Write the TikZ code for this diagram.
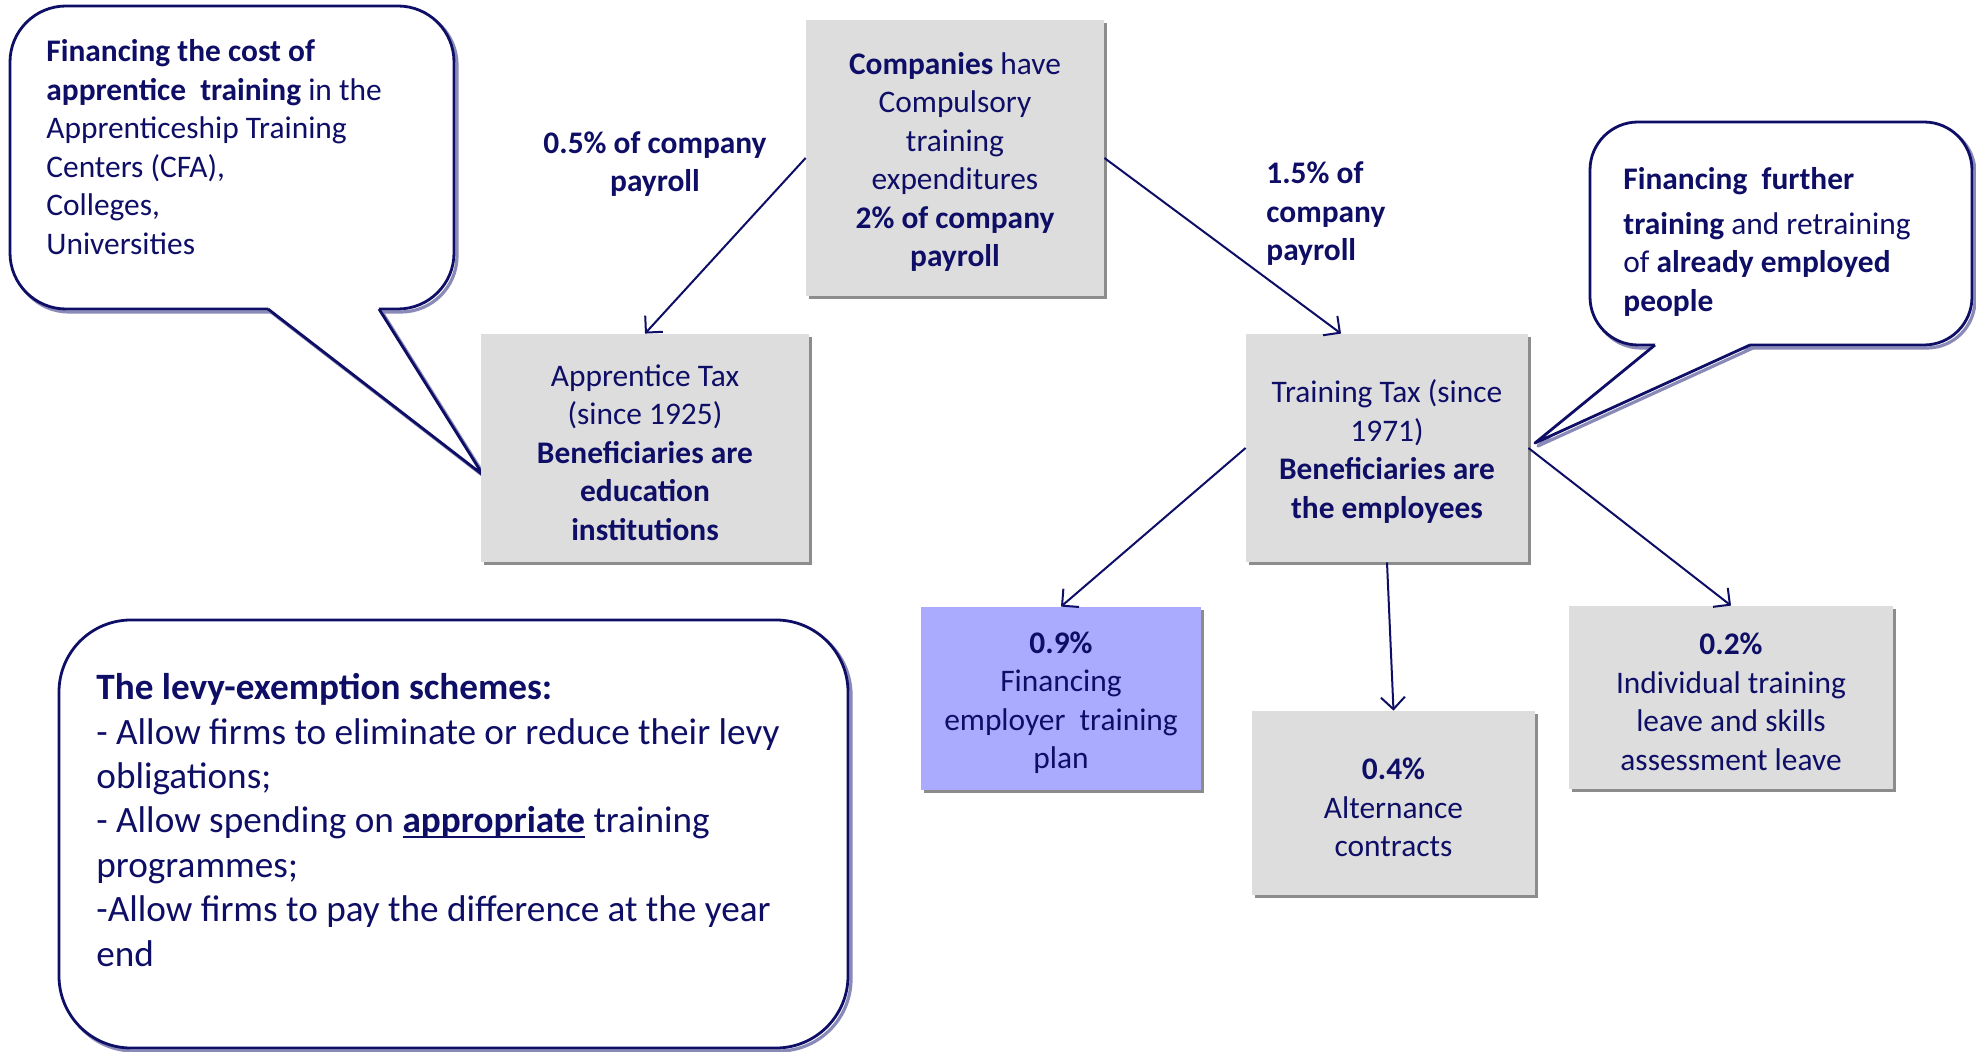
\documentclass[tikz,border=0pt]{standalone}
\usepackage{fontspec}
\setmainfont{Carlito}
\newsavebox\myulbox
\newcommand\myuline[1]{\sbox\myulbox{#1}\rlap{\rule[-2.7pt]{\wd\myulbox}{1.1pt}}\usebox\myulbox}
\newcommand\toppad{\rule{0pt}{15.2pt}}
\usetikzlibrary{arrows.meta,shadows}
\definecolor{txtnavy}{HTML}{0E0E66}
\definecolor{boxgray}{HTML}{DDDDDD}
\definecolor{boxblue}{HTML}{AAAAFF}
\definecolor{shgray}{HTML}{8C8C8C}
\definecolor{cshadow}{HTML}{8A8AB8}
\begin{document}
\begin{tikzpicture}[x=0.5pt,y=-0.5pt,
  every node/.style={text=txtnavy, inner sep=0pt},
  bodyfont/.style={font=\fontsize{15.7}{19.25}\selectfont},
  levyfont/.style={font=\fontsize{18.6}{22.2}\selectfont},
  box/.style={bodyfont, fill=boxgray, align=center,
    drop shadow={shadow xshift=1.6pt, shadow yshift=-1.6pt, fill=shgray, opacity=1}},
  bluebox/.style={box, fill=boxblue},
  flow/.style={draw=txtnavy, line width=1pt, -{Straight Barb[length=6pt,width=12pt,line width=1pt]}},
  cline/.style={draw=txtnavy, line width=1.4pt, line join=round},
  cshad/.style={draw=cshadow, line width=1.6pt, line join=round},
  plain/.style={bodyfont, align=left},
  lbl/.style={bodyfont, font=\fontsize{15.7}{19.25}\selectfont\bfseries}
]
\useasboundingbox (0,0) rectangle (1976,1052);
\fill[white] (0,0) rectangle (1976,1052);

% ---- callout 1 (top left)
\begin{scope}[shift={(3,3)}]
  \draw[cshad, rounded corners=28pt] (10,6) rectangle (454,309);
  \draw[cshad] (268,309) -- (483,475) -- (379,309);
\end{scope}
\draw[cline, fill=white, rounded corners=28pt] (10,6) rectangle (454,309);
\fill[white] (270,300) -- (268,309) -- (483,475) -- (379,309) -- (377,300) -- cycle;
\draw[cline] (268,309) -- (483,475) -- (379,309);
\node[plain, anchor=west] (c1txt) at (46,147)
  {\textbf{Financing the cost of}\\\textbf{apprentice\ \ training} in the\\Apprenticeship Training\\Centers (CFA),\\Colleges,\\Universities};

% ---- callout 2 (top right)
\begin{scope}[shift={(3,3)}]
  \draw[cshad, rounded corners=24pt] (1590,122) rectangle (1972,345);
  \draw[cshad] (1655,345) -- (1535,443) -- (1750,345);
\end{scope}
\draw[cline, fill=white, rounded corners=24pt] (1590,122) rectangle (1972,345);
\fill[white] (1657,336) -- (1655,345) -- (1535,443) -- (1750,345) -- (1748,336) -- cycle;
\draw[cline] (1655,345) -- (1535,443) -- (1750,345);
\node[plain, anchor=west] (c2txt) at (1623,242)
  {\textbf{Financing\ \ further}\\[3pt]\textbf{training} and retraining\\of \textbf{already employed}\\\textbf{people}};

% ---- levy box
\begin{scope}[shift={(3,3)}]
  \draw[cshad, rounded corners=36pt] (59,620) rectangle (848,1048);
\end{scope}
\draw[cline, fill=white, rounded corners=36pt] (59,620) rectangle (848,1048);
\node[levyfont, align=left, anchor=west] (levytxt) at (96,820)
  {\textbf{The levy-exemption schemes:}\\- Allow firms to eliminate or reduce their levy\\obligations;\\- Allow spending on \myuline{\textbf{appropriate}} training\\programmes;\\-Allow firms to pay the difference at the year\\end};

% ---- boxes
\node[box, minimum width=149pt, minimum height=138pt] (comp) at (955,158)
  {\toppad\textbf{Companies} have\\Compulsory\\training\\expenditures\\\textbf{2\% of company}\\\textbf{payroll}};
\node[box, minimum width=164pt, minimum height=114pt] (app) at (645,448)
  {\toppad Apprentice Tax\\(since 1925)\\\textbf{Beneficiaries are}\\\textbf{education}\\\textbf{institutions}};
\node[box, minimum width=141pt, minimum height=114pt] (tt) at (1387,448)
  {\toppad Training Tax (since\\1971)\\\textbf{Beneficiaries are}\\\textbf{the employees}};
\node[bluebox, minimum width=140pt, minimum height=91.5pt] (p09) at (1061,698.5)
  {\toppad\textbf{0.9\%}\\Financing\\employer\ \ training\\plan};
\node[box, minimum width=141.5pt, minimum height=92pt] (p04) at (1393.5,803)
  {\toppad\textbf{0.4\%}\\Alternance\\contracts};
\node[box, minimum width=162pt, minimum height=91.5pt] (p02) at (1731,697.5)
  {\toppad\textbf{0.2\%}\\Individual training\\leave and skills\\assessment leave};

% ---- labels
\node[lbl, align=center] (l05) at (655,164) {0.5\% of company\\payroll};
\node[lbl, align=left, anchor=west] (l15) at (1266,214) {1.5\% of\\company\\payroll};

% ---- arrows
\draw[flow] (comp.west) -- (app.north);
\draw[flow] (comp.east) -- ([xshift=-23pt]tt.north);
\draw[flow] (tt.west) -- (p09.north);
\draw[flow] (tt.south) -- (p04.north);
\draw[flow] (tt.east) -- (p02.north);
\end{tikzpicture}
\end{document}
